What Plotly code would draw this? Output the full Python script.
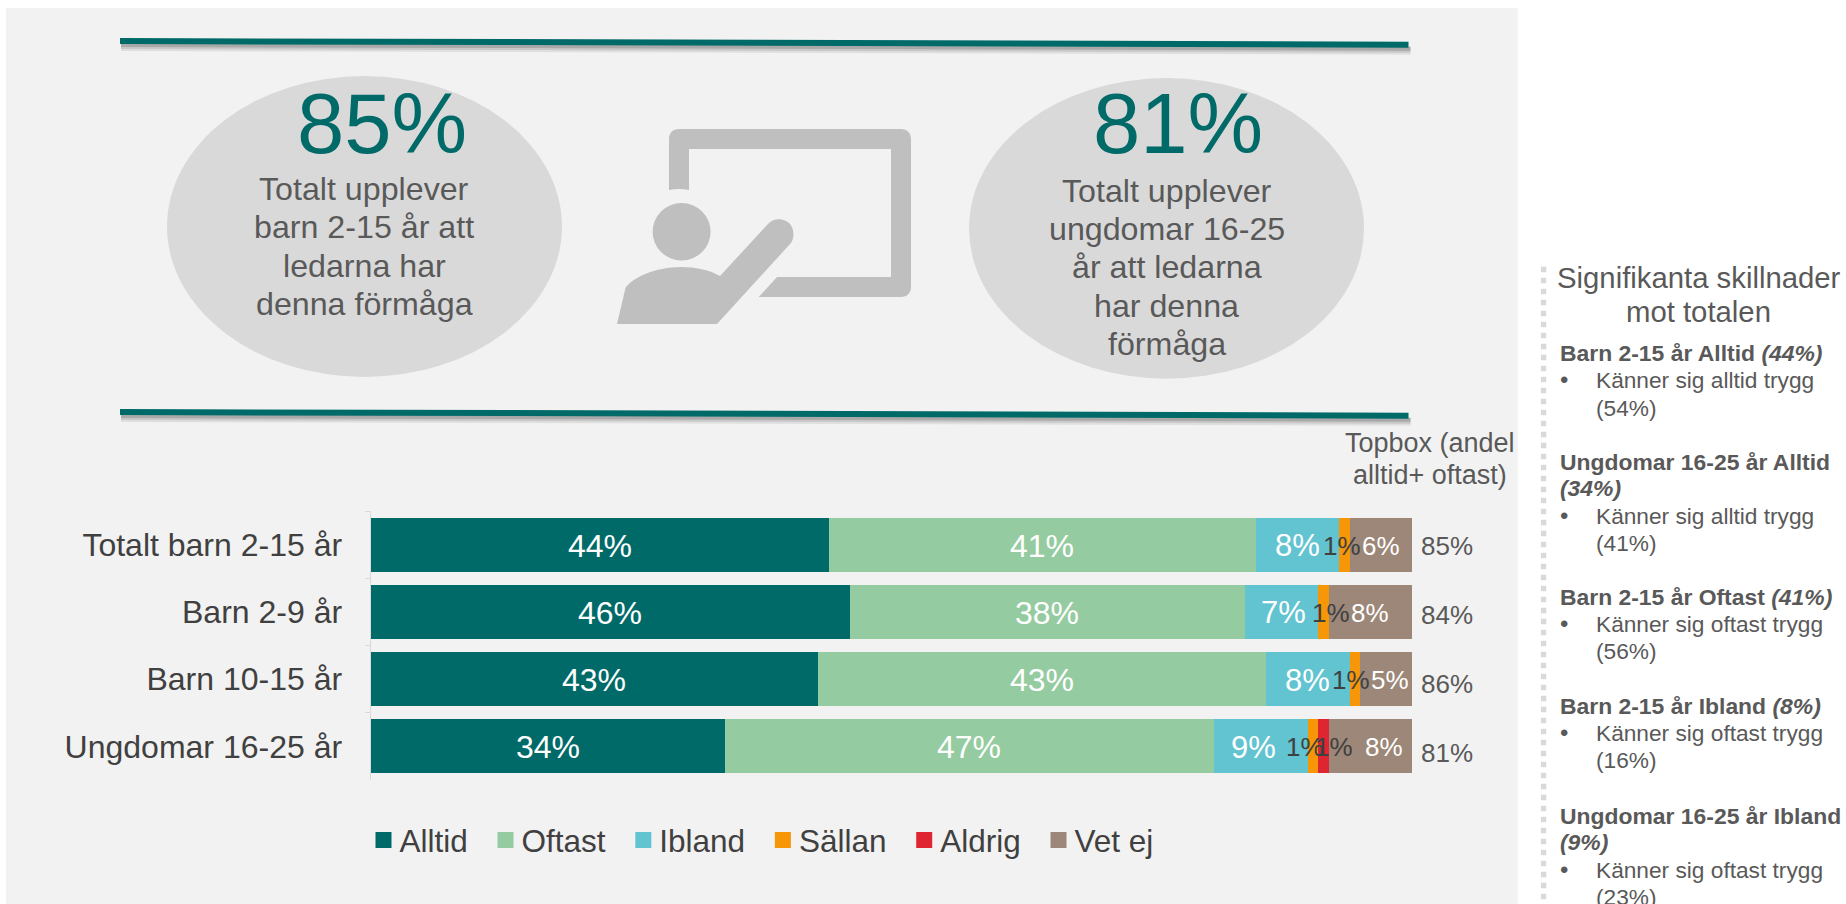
import plotly.graph_objects as go

W, H = 1846, 904
FONT = "Liberation Sans"

# ---- data ----
CATEGORIES = ["Totalt barn 2-15 år", "Barn 2-9 år", "Barn 10-15 år", "Ungdomar 16-25 år"]
ALLTID = [44, 46, 43, 34]
OFTAST = [41, 38, 43, 47]
IBLAND = [8, 7, 8, 9]
SALLAN = [1, 1, 1, 1]
ALDRIG = [0, 0, 0, 1]
VET_EJ = [6, 8, 5, 8]
TOPBOX = [85, 84, 86, 81]
SERIES_NAMES = ["Alltid", "Oftast", "Ibland", "Sällan", "Aldrig", "Vet ej"]
SERIES_VALUES = [ALLTID, OFTAST, IBLAND, SALLAN, ALDRIG, VET_EJ]

# ---- styles ----
COLORS = ["#006A68", "#95CBA0", "#62C3D1", "#F79607", "#DF2531", "#9C8778"]
LABEL_COLORS = ["white", "white", "white", "#404040", "#404040", "white"]
LABEL_SIZES = [32, 32, 31, 26, 26, 26]
# hand placed data-label nudges in the source slide (row, series) -> px
LABEL_SHIFT = {(0, 3): -2, (1, 2): 2, (1, 3): 8, (2, 3): -4, (2, 5): 4,
               (3, 2): -7, (3, 3): -8, (3, 4): 11, (3, 5): 14}
GREY = "#595959"
DARK = "#404040"
TEAL = "#006A68"


def px(x):
    return x / W


def py(y):
    return 1 - y / H


fig = go.Figure()

for name, vals, col in zip(SERIES_NAMES, SERIES_VALUES, COLORS):
    fig.add_trace(go.Bar(name=name, y=CATEGORIES, x=vals, orientation="h",
                         marker=dict(color=col, line=dict(width=0)),
                         showlegend=False, hoverinfo="skip"))
# legend entries (the outline makes the swatch as big as in the reference,
# the trailing no-break space gives the wider spacing between entries)
for name, col in zip(SERIES_NAMES, COLORS):
    fig.add_trace(go.Bar(name=name + "\u00a0", y=[None], x=[None], orientation="h",
                         marker=dict(color=col, line=dict(width=4, color=col)),
                         showlegend=True, hoverinfo="skip"))

annotations = []


def txt(x, base, s, size, color=GREY, anchor="left", **kw):
    """Text placed by its baseline, in page pixels."""
    annotations.append(dict(xref="paper", yref="paper", x=px(x), y=py(base - 0.346 * size),
                            text=s, showarrow=False, xanchor=anchor, yanchor="middle",
                            font=dict(family=FONT, size=size, color=color),
                            borderpad=0, borderwidth=0, **kw))


# data labels
for r, cat in enumerate(CATEGORIES):
    cum = 0
    for s, vals in enumerate(SERIES_VALUES):
        v = vals[r]
        if v:
            annotations.append(dict(xref="x", yref="y", x=cum + v / 2, y=cat, text=f"{v}%",
                                    showarrow=False, xshift=LABEL_SHIFT.get((r, s), 0), yshift=-1,
                                    font=dict(family=FONT, size=LABEL_SIZES[s], color=LABEL_COLORS[s])))
        cum += v

# topbox column
for base, v in zip([555, 624, 693, 762], TOPBOX):
    txt(1447, base, f"{v}%", 26, anchor="center")
txt(1429.5, 452, "Topbox (andel", 27, anchor="center")
txt(1429.5, 484.5, "alltid+ oftast)", 27, anchor="center")

# call-outs
txt(381.6, 153, "85%", 85, TEAL, "center")
for base, s in zip([200, 238, 277, 315],
                   ["Totalt upplever", "barn 2-15 år att", "ledarna har", "denna förmåga"]):
    txt(364, base, s, 32.2, GREY, "center")
txt(1178, 153, "81%", 85, TEAL, "center")
for base, s in zip([201.7, 240, 278, 317, 355],
                   ["Totalt upplever", "ungdomar 16-25", "år att ledarna", "har denna", "förmåga"]):
    txt(1166.6, base, s, 32.2, GREY, "center")

# side panel
txt(1698.5, 287.5, "Signifikanta skillnader", 29.3, GREY, "center")
txt(1698.5, 322, "mot totalen", 29.3, GREY, "center")
SIDE_HEAD = [(360.8, "<b>Barn 2-15 år Alltid <i>(44%)</i></b>"),
             (469.7, "<b>Ungdomar 16-25 år Alltid</b>"),
             (496.4, "<b><i>(34%)</i></b>"),
             (605, "<b>Barn 2-15 år Oftast <i>(41%)</i></b>"),
             (713.7, "<b>Barn 2-15 år Ibland <i>(8%)</i></b>"),
             (824, "<b>Ungdomar 16-25 år Ibland</b>"),
             (850, "<b><i>(9%)</i></b>")]
SIDE_ITEM = [(388.3, "Känner sig alltid trygg", "(54%)"),
             (523.9, "Känner sig alltid trygg", "(41%)"),
             (632, "Känner sig oftast trygg", "(56%)"),
             (741, "Känner sig oftast trygg", "(16%)"),
             (877.7, "Känner sig oftast trygg", "(23%)")]
for base, s in SIDE_HEAD:
    txt(1559.7, base, s, 22.9)
for base, a, b in SIDE_ITEM:
    txt(1559.7, base, "•", 24)
    txt(1595.7, base, a, 22.7)
    txt(1595.7, base + 27.3, b, 22.7)


def rect(x0, y0, x1, y1, color):
    return dict(type="rect", xref="paper", yref="paper", x0=px(x0), x1=px(x1), y0=py(y0), y1=py(y1),
                fillcolor=color, line_width=0, layer="below")


def oval(x0, y0, x1, y1, color):
    return dict(type="circle", xref="paper", yref="paper", x0=px(x0), x1=px(x1), y0=py(y0), y1=py(y1),
                fillcolor=color, line_width=0, layer="below")


def seg(x0, y0, x1, y1, color, width, opacity=1.0, dash=None):
    line = dict(color=color, width=width)
    if dash:
        line["dash"] = dash
    return dict(type="line", xref="paper", yref="paper", x0=px(x0), x1=px(x1), y0=py(y0), y1=py(y1),
                line=line, opacity=opacity, layer="below")


def path(points, color):
    """points: list of (cmd, x, y, ...) in page pixels."""
    d = ""
    for p in points:
        cmd, nums = p[0], p[1:]
        out = [f"{px(n):.5f}" if i % 2 == 0 else f"{py(n):.5f}" for i, n in enumerate(nums)]
        d += cmd + " " + " ".join(out) + " "
    return dict(type="path", xref="paper", yref="paper", path=d + "Z", fillcolor=color,
                line_width=0, layer="below")


ICON = "#BFBFBF"
shapes = [rect(6, 8, 1517.7, H + 5, "#F2F2F2")]
for y0, y1 in [(41, 44.7), (412, 415.7)]:
    for off, w, op in [(6, 8, 0.10), (5, 6, 0.14), (4, 4, 0.22)]:
        shapes.append(seg(120 + 1, y0 + off, 1408.5 + 2, y1 + off, "#404040", w, op))
    shapes.append(seg(120, y0, 1408.5, y1, TEAL, 6))
shapes += [
    oval(167, 76, 562, 377, "#D9D9D9"),
    oval(969, 78, 1364, 378.7, "#D9D9D9"),
    path([("M", 669, 190), ("L", 669, 139), ("C", 669, 133, 673, 129, 679, 129), ("L", 901, 129),
          ("C", 907, 129, 911, 133, 911, 139), ("L", 911, 287), ("C", 911, 293, 907, 297, 901, 297),
          ("L", 758.7, 297), ("L", 777, 277), ("L", 891, 277), ("L", 891, 149), ("L", 689, 149),
          ("L", 689, 190), ("C", 682, 188.5, 676, 188.5, 669, 190)], ICON),
    oval(652.6, 203, 710.6, 260.4, ICON),
    path([("M", 617, 324), ("L", 625.5, 288), ("C", 632, 278, 655, 267, 681, 267),
          ("C", 695, 267, 710, 270, 720, 276), ("L", 768, 224), ("C", 772, 219, 780, 218, 786, 221),
          ("C", 793, 224, 796, 235, 791, 243), ("L", 717, 324)], ICON),
    seg(1543.6, 266.7, 1543.6, H + 5, "#D9D9D9", 5.3, dash="5.5px,5.5px"),
]

fig.update_layout(
    width=W, height=H, autosize=False,
    margin=dict(l=0, r=0, t=0, b=0),
    paper_bgcolor="white", plot_bgcolor="rgba(0,0,0,0)",
    barmode="stack", bargap=0.2,
    font=dict(family=FONT, color=DARK),
    showlegend=True,
    legend=dict(orientation="h", x=px(359.5), xanchor="left", y=py(840), yanchor="middle",
                font=dict(family=FONT, size=31.5, color=DARK), bgcolor="rgba(0,0,0,0)",
                traceorder="normal", borderwidth=0),
    xaxis=dict(domain=[px(370.5), px(1412)], range=[0, 100], visible=False, fixedrange=True),
    yaxis=dict(domain=[py(780), py(511)], type="category", categoryorder="array",
               categoryarray=CATEGORIES, autorange="reversed", tickson="boundaries",
               ticks="outside", ticklen=5, tickcolor="#D9D9D9", tickwidth=1,
               showline=True, linecolor="#D9D9D9", linewidth=1, showgrid=False, zeroline=False,
               tickfont=dict(family=FONT, size=32, color=DARK), ticklabelstandoff=21, fixedrange=True),
    shapes=shapes,
    annotations=annotations,
)

fig.write_html("out.html", config={"displayModeBar": False},
               post_script="document.body.style.margin='0';document.body.style.overflow='hidden';"
                           "document.querySelectorAll('.legendsymbols').forEach(function(n){"
                           "n.setAttribute('transform','translate(4,0)');});")
